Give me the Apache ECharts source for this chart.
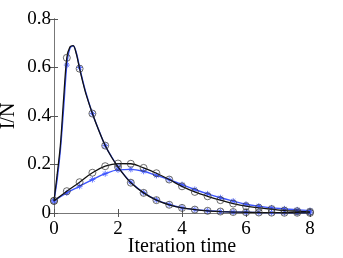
<!DOCTYPE html>
<html>
<head>
<meta charset="utf-8">
<script src="https://cdn.jsdelivr.net/npm/echarts@6/dist/echarts.min.js"></script>
<style>html,body{margin:0;padding:0;background:#fff}#c{width:343px;height:258px}</style>
</head>
<body>
<div id="c"></div>
<script>
// Fine-sampled times for the sharp-peaked curves
const tFine = [0,0.1,0.2,0.3,0.4,0.5,0.6,0.7,0.8,0.9,1.0,1.2,1.4,1.6,1.8,2.0,2.2,2.4,2.8,3.2,3.6,4.0,4.4,4.8,5.2,5.6,6.0,6.4,6.8,7.2,7.6,8.0];
const bigTheory = [0.05,0.16,0.28,0.47,0.64,0.685,0.69,0.655,0.595,0.54,0.49,0.41,0.34,0.278,0.23,0.19,0.155,0.125,0.083,0.053,0.034,0.021,0.014,0.009,0.006,0.004,0.003,0.002,0.0015,0.001,0.001,0.0005];
const bigSim    = [0.05,0.14,0.26,0.43,0.61,0.68,0.69,0.66,0.60,0.545,0.495,0.41,0.342,0.278,0.232,0.19,0.156,0.127,0.084,0.054,0.035,0.022,0.014,0.009,0.006,0.004,0.003,0.002,0.0015,0.001,0.001,0.0005];
// Marker times (every 0.4)
const tMark = [0,0.4,0.8,1.2,1.6,2.0,2.4,2.8,3.2,3.6,4.0,4.4,4.8,5.2,5.6,6.0,6.4,6.8,7.2,7.6,8.0];
const smallTheory = [0.05,0.09,0.127,0.166,0.193,0.204,0.203,0.186,0.164,0.138,0.11,0.087,0.069,0.053,0.039,0.028,0.021,0.016,0.010,0.0075,0.005];
const smallSim    = [0.05,0.083,0.11,0.138,0.162,0.178,0.18,0.172,0.155,0.138,0.117,0.097,0.079,0.063,0.049,0.036,0.028,0.021,0.017,0.013,0.010];
const xTicks = [0,2,4,6,8];
const yTicks = [0,0.2,0.4,0.6,0.8];

const blue = '#3d55ff';
const black = '#111';
const pairs = (ts, vs) => ts.map((t,i)=>[t, vs[i]]);
const atMarks = (vs) => tMark.map(t => [t, vs[tFine.indexOf(t)]]);
const star = 'path://M0,-5L0,5M-5,0L5,0M-3.5,-3.5L3.5,3.5M-3.5,3.5L3.5,-3.5';
const font = 'Liberation Serif';

const chart = echarts.init(document.getElementById('c'), null, {renderer:'canvas'});
const axisBase = {
  type:'value', min:0,
  axisLine:{show:true, lineStyle:{color:'#222', width:1}},
  axisTick:{show:true, inside:true, length:4, lineStyle:{color:'#555'}},
  splitLine:{show:false}
};
chart.setOption({
  animation:false,
  backgroundColor:'#fff',
  grid:{left:54, right:33, top:19, bottom:45, containLabel:false, outerBoundsMode:'none'},
  xAxis:[
    Object.assign({}, axisBase, {max:xTicks[xTicks.length-1], interval:xTicks[1]-xTicks[0], position:'bottom',
      name:'Iteration time', nameLocation:'middle', nameGap:24, nameMoveOverlap:false,
      nameTextStyle:{fontFamily:font, fontSize:20, color:'#000', verticalAlign:'top'},
      axisLabel:{fontFamily:font, fontSize:19, color:'#000', margin:7}}),
    Object.assign({}, axisBase, {max:xTicks[xTicks.length-1], interval:xTicks[1]-xTicks[0], position:'top',
      axisLine:{show:true, lineStyle:{color:'#777', width:1}}, axisLabel:{show:false}})
  ],
  yAxis:[
    Object.assign({}, axisBase, {max:yTicks[yTicks.length-1], interval:0.2, position:'left',
      name:'I/N', nameLocation:'middle', nameGap:35, nameMoveOverlap:false,
      nameTextStyle:{fontFamily:font, fontSize:20, color:'#000'},
      axisLabel:{fontFamily:font, fontSize:19, color:'#000', margin:3,
        formatter:v => (Math.abs(v)<1e-9 ? '0' : v.toFixed(1))}}),
    Object.assign({}, axisBase, {max:yTicks[yTicks.length-1], interval:0.2, position:'right',
      axisLine:{show:true, lineStyle:{color:'#777', width:1}}, axisLabel:{show:false}})
  ],
  series:[
    {type:'line', data:pairs(tFine,bigSim), smooth:0.3, showSymbol:false, lineStyle:{color:blue, width:1.4}, z:2},
    {type:'line', data:pairs(tMark,smallSim), smooth:0.4, showSymbol:false, lineStyle:{color:blue, width:1.4}, z:2},
    {type:'scatter', data:atMarks(bigSim), symbol:star, symbolSize:6, itemStyle:{color:blue, borderColor:blue, borderWidth:1, opacity:0.8}, z:3},
    {type:'scatter', data:pairs(tMark,smallSim), symbol:star, symbolSize:6, itemStyle:{color:blue, borderColor:blue, borderWidth:1, opacity:0.8}, z:3},
    {type:'line', data:pairs(tFine,bigTheory), smooth:0.3, showSymbol:false, lineStyle:{color:black, width:1.3}, z:4},
    {type:'line', data:pairs(tMark,smallTheory), smooth:0.4, showSymbol:false, lineStyle:{color:black, width:1.3}, z:4},
    {type:'scatter', data:atMarks(bigTheory), symbol:'circle', symbolSize:7, itemStyle:{color:'rgba(0,0,0,0)', borderColor:'#333', borderWidth:0.9}, z:5},
    {type:'scatter', data:pairs(tMark,smallTheory), symbol:'circle', symbolSize:7, itemStyle:{color:'rgba(0,0,0,0)', borderColor:'#333', borderWidth:0.9}, z:5}
  ]
});
</script>
</body>
</html>
